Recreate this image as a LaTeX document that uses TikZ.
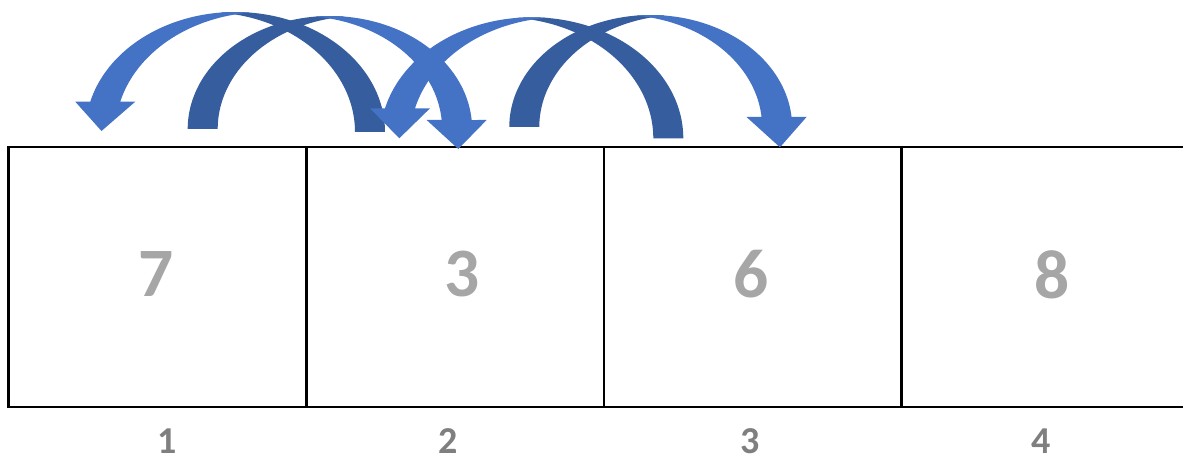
\documentclass[tikz,border=0pt]{standalone}
\usepackage{fontspec}
\setmainfont{Carlito}
\definecolor{lightarrow}{RGB}{68,114,196}
\definecolor{darkarrow}{RGB}{54,93,157}
\definecolor{digitgray}{RGB}{166,166,166}
\definecolor{indexgray}{RGB}{127,127,127}
% #1 cx, #2 cy, #3 rx, #4 ry, #5 band width, #6 direction (1 head right, -1 head left)
\newcommand{\CArrowDark}[6]{%
  \pgfmathsetmacro{\CAa}{acos(#5/(2*#3))}%
  \pgfmathsetmacro{\CAlo}{180+\CAa}%
  \pgfmathsetmacro{\CAhi}{360-\CAa}%
  \ifnum#6>0
    \fill[darkarrow] plot[domain=180:\CAhi,samples=90] ({#1+#3*cos(\x)},{#2+#4*sin(\x)})
      -- plot[domain=\CAlo:180,samples=90] ({#1+#5+#3*cos(\x)},{#2+#4*sin(\x)}) -- cycle;
  \else
    \fill[darkarrow] plot[domain=\CAlo:360,samples=90] ({#1+#3*cos(\x)},{#2+#4*sin(\x)})
      -- plot[domain=360:\CAhi,samples=90] ({#1-#5+#3*cos(\x)},{#2+#4*sin(\x)}) -- cycle;
  \fi
}
% #1 cx, #2 cy, #3 rx, #4 ry, #5 band width, #6 direction, #7 head height above cy, #8 tip x, #9 tip y
\newcommand{\CArrowLight}[9]{%
  \pgfmathsetmacro{\CAa}{acos(#5/(2*#3))}%
  \pgfmathsetmacro{\CAlo}{180+\CAa}%
  \pgfmathsetmacro{\CAhi}{360-\CAa}%
  \pgfmathsetmacro{\CAs}{asin(#7/#4)}%
  \pgfmathsetmacro{\CAc}{#3*cos(\CAs)}%
  \pgfmathsetmacro{\CAyh}{#2-#7}%
  \ifnum#6>0
    \pgfmathsetmacro{\CAth}{360-\CAs}%
    \pgfmathsetmacro{\CAxo}{#1+\CAc}%
    \pgfmathsetmacro{\CAxi}{#1+\CAc-#5}%
    \fill[lightarrow] plot[domain=\CAlo:\CAth,samples=90] ({#1+#3*cos(\x)},{#2+#4*sin(\x)})
      -- (\CAxo+15,\CAyh) -- (#8,#9) -- (\CAxi-15,\CAyh) -- (\CAxi,\CAyh)
      -- plot[domain=\CAth:\CAhi,samples=90] ({#1-#5+#3*cos(\x)},{#2+#4*sin(\x)}) -- cycle;
  \else
    \pgfmathsetmacro{\CAth}{180+\CAs}%
    \pgfmathsetmacro{\CAxo}{#1-\CAc}%
    \pgfmathsetmacro{\CAxi}{#1-\CAc+#5}%
    \fill[lightarrow] (#8,#9) -- (\CAxo-15,\CAyh) -- (\CAxo,\CAyh)
      -- plot[domain=\CAth:\CAhi,samples=90] ({#1+#3*cos(\x)},{#2+#4*sin(\x)})
      -- plot[domain=\CAlo:\CAth,samples=90] ({#1+#5+#3*cos(\x)},{#2+#4*sin(\x)})
      -- (\CAxi+15,\CAyh) -- cycle;
  \fi
}
\tikzset{
  cell/.style={draw=black, line width=1.8pt, minimum width=223.3pt, minimum height=195pt, inner sep=0pt, outer sep=0pt},
  digit/.style={text=digitgray, font=\fontsize{52}{60}\selectfont\bfseries, inner sep=0pt},
  index/.style={text=indexgray, font=\fontsize{28.5}{34}\selectfont\bfseries, inner sep=0pt}
}
\begin{document}
\begin{tikzpicture}[x=0.75pt,y=-0.75pt]
\useasboundingbox (0,0) rectangle (1183,456);
\clip (0,0) rectangle (1183,456);
\fill[white] (0,0) rectangle (1183,456);
% cells
\node[cell] (c1) at (157.5,277) {};
\node[cell] (c2) at (455.25,277) {};
\node[cell] (c3) at (752.75,277) {};
\node[cell] (c4) at (1050.25,277) {};
% values
\node[digit] (v1) at (156,274.5) {7};
\node[digit] (v2) at (462,274.5) {3};
\node[digit] (v3) at (751,274.5) {6};
\node[digit] (v4) at (1052.5,274.5) {8};
% indices
\node[index] (i1) at (167,441) {1};
\node[index] (i2) at (448,441) {2};
\node[index] (i3) at (750,441) {3};
\node[index] (i4) at (1041,441) {4};
% curved arrows: back (dark) parts first
\CArrowDark{235.2}{132}{149.8}{120}{30}{-1}
\CArrowDark{329.9}{129}{142.2}{113}{30}{1}
\CArrowDark{531.8}{138.3}{151.5}{121}{30}{-1}
\CArrowDark{650.7}{127}{141.4}{112}{30}{1}
% front (light) parts with heads
\CArrowLight{235.2}{132}{149.8}{120}{30}{-1}{30.3}{101.5}{131}
\CArrowLight{329.9}{129}{142.2}{113}{30}{1}{9}{458.3}{149}
\CArrowLight{531.8}{138.3}{151.5}{121}{30}{-1}{30}{399.3}{138.3}
\CArrowLight{650.7}{127}{141.4}{112}{30}{1}{10}{780}{147.3}
\end{tikzpicture}
\end{document}
